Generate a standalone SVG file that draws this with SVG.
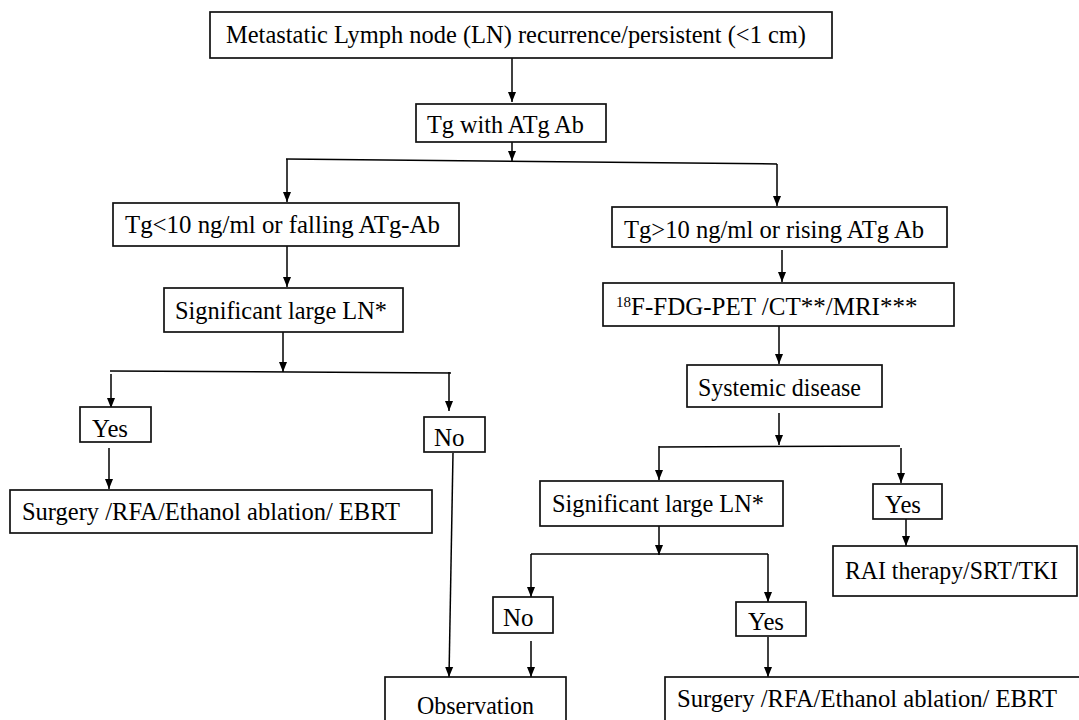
<svg xmlns="http://www.w3.org/2000/svg" width="1079" height="720" viewBox="0 0 1079 720">
<defs>
<marker id="ah" markerWidth="10" markerHeight="12" refX="10" refY="5" orient="auto" markerUnits="userSpaceOnUse">
<path d="M0,1 L10,5 L0,9 Z" fill="#000"/>
</marker>
<style>
.b{fill:#fff;stroke:#111;stroke-width:1.7}
text{font-size:25px;fill:#000}
.c line,.c path{stroke:#000;stroke-width:1.5;fill:none}
.a{marker-end:url(#ah)}
</style>
</defs>
<rect width="1079" height="720" fill="#fff"/>
<g class="c" id="connectors">
<line class="a" x1="512" y1="58" x2="512" y2="102"/>
<line class="a" x1="512" y1="142" x2="512" y2="161"/>
<line x1="286" y1="159" x2="777" y2="164"/>
<line class="a" x1="287" y1="159" x2="287" y2="202"/>
<line class="a" x1="777" y1="164" x2="777" y2="206"/>
<line class="a" x1="287" y1="246" x2="287" y2="287"/>
<line class="a" x1="283" y1="332" x2="283" y2="372"/>
<line x1="110" y1="371" x2="451" y2="373"/>
<line class="a" x1="111" y1="374" x2="111" y2="408"/>
<line class="a" x1="449" y1="372" x2="449" y2="411"/>
<line class="a" x1="109" y1="448" x2="109" y2="489"/>
<line class="a" x1="453" y1="453" x2="449" y2="677"/>
<line class="a" x1="782" y1="250" x2="782" y2="282"/>
<line class="a" x1="779" y1="326" x2="779" y2="364"/>
<line class="a" x1="779" y1="413" x2="779" y2="445"/>
<path d="M659,447 L900,446"/>
<line class="a" x1="659" y1="446" x2="659" y2="480"/>
<line class="a" x1="901" y1="448" x2="901" y2="483"/>
<line class="a" x1="906" y1="519" x2="906" y2="546"/>
<line class="a" x1="659" y1="526" x2="659" y2="555"/>
<line x1="531" y1="554" x2="768" y2="554"/>
<line class="a" x1="531" y1="554" x2="531" y2="597"/>
<line class="a" x1="768" y1="554" x2="768" y2="602"/>
<line class="a" x1="531" y1="641" x2="531" y2="677"/>
<line class="a" x1="768" y1="637" x2="768" y2="677"/>
</g>
<g font-family="'Liberation Serif', 'Times New Roman', serif">
<g id="n1"><rect class="b" x="210" y="12" width="622" height="46"/><text x="226" y="43" textLength="580" lengthAdjust="spacingAndGlyphs">Metastatic Lymph node (LN) recurrence/persistent (&lt;1 cm)</text></g>
<g id="n2"><rect class="b" x="416" y="104" width="190" height="38"/><text x="427" y="133" textLength="157" lengthAdjust="spacingAndGlyphs">Tg with ATg Ab</text></g>
<g id="n3"><rect class="b" x="113" y="203" width="346" height="43"/><text x="125" y="233" textLength="315" lengthAdjust="spacingAndGlyphs">Tg&lt;10 ng/ml or falling ATg-Ab</text></g>
<g id="n4"><rect class="b" x="164" y="288" width="239" height="44"/><text x="175" y="319" textLength="212" lengthAdjust="spacingAndGlyphs">Significant large LN*</text></g>
<g id="n5"><rect class="b" x="80" y="407" width="71" height="35"/><text x="92" y="437" textLength="36" lengthAdjust="spacingAndGlyphs">Yes</text></g>
<g id="n6"><rect class="b" x="424" y="417" width="61" height="35"/><text x="434" y="446">No</text></g>
<g id="n7"><rect class="b" x="10" y="490" width="422" height="43"/><text x="22" y="520" textLength="378" lengthAdjust="spacingAndGlyphs">Surgery /RFA/Ethanol ablation/ EBRT</text></g>
<g id="n8"><rect class="b" x="385" y="677" width="181" height="50"/><text x="417" y="714" textLength="117" lengthAdjust="spacingAndGlyphs">Observation</text></g>
<g id="n9"><rect class="b" x="612" y="207" width="335" height="40"/><text x="624" y="238" textLength="300" lengthAdjust="spacingAndGlyphs">Tg&gt;10 ng/ml or rising ATg Ab</text></g>
<g id="n10"><rect class="b" x="603" y="283" width="351" height="43"/><text x="616" y="315"><tspan font-size="15" dy="-8">18</tspan><tspan dy="8">F-FDG-PET /CT**/MRI***</tspan></text></g>
<g id="n11"><rect class="b" x="687" y="365" width="195" height="42"/><text x="698" y="396" textLength="163" lengthAdjust="spacingAndGlyphs">Systemic disease</text></g>
<g id="n12"><rect class="b" x="540" y="481" width="243" height="45"/><text x="552" y="512" textLength="212" lengthAdjust="spacingAndGlyphs">Significant large LN*</text></g>
<g id="n13"><rect class="b" x="873" y="484" width="69" height="35"/><text x="885" y="513" textLength="36" lengthAdjust="spacingAndGlyphs">Yes</text></g>
<g id="n14"><rect class="b" x="833" y="546" width="244" height="50"/><text x="845" y="579" textLength="213" lengthAdjust="spacingAndGlyphs">RAI therapy/SRT/TKI</text></g>
<g id="n15"><rect class="b" x="493" y="597" width="60" height="36"/><text x="503" y="626">No</text></g>
<g id="n16"><rect class="b" x="736" y="602" width="70" height="34"/><text x="748" y="630" textLength="36" lengthAdjust="spacingAndGlyphs">Yes</text></g>
<g id="n17"><rect class="b" x="665" y="677" width="420" height="50"/><text x="677" y="707" textLength="380" lengthAdjust="spacingAndGlyphs">Surgery /RFA/Ethanol ablation/ EBRT</text></g>
</g>
</svg>
